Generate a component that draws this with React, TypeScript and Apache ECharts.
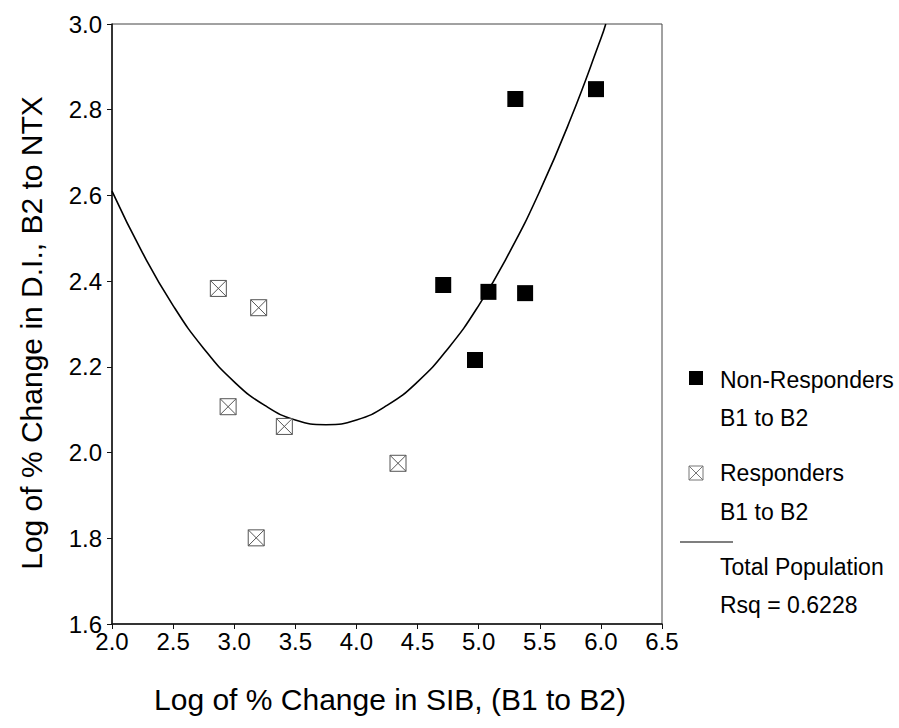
import React, { useEffect, useRef } from "react";
import * as echarts from "echarts";

// Non-Responders B1 to B2 (filled squares)
const nonRespX = [5.30, 5.96, 4.71, 5.08, 5.38, 4.97];
const nonRespY = [2.825, 2.848, 2.391, 2.375, 2.372, 2.216];

// Responders B1 to B2 (crossed squares)
const respX = [2.87, 3.20, 2.95, 3.41, 4.34, 3.18];
const respY = [2.383, 2.338, 2.107, 2.061, 1.975, 1.801];

// Total Population fitted curve
const curveX = [2.0, 2.25, 2.5, 2.75, 3.0, 3.25, 3.5, 3.75, 4.0, 4.25, 4.5, 4.75, 5.0, 5.25, 5.5, 5.75, 6.0, 6.04];
const curveY = [2.61, 2.466, 2.343, 2.243, 2.165, 2.11, 2.076, 2.065, 2.076, 2.11, 2.165, 2.243, 2.343, 2.466, 2.61, 2.777, 2.966, 3.0];

const legendLines = ["Non-Responders", "B1 to B2", "Responders", "B1 to B2", "Total Population", "Rsq = 0.6228"];

const xTitle = "Log of % Change in SIB, (B1 to B2)";
const yTitle = "Log of % Change in D.I., B2 to NTX";

const FONT = "'Liberation Sans', Arial, sans-serif";

export default function App() {
  const ref = useRef<HTMLDivElement>(null);
  useEffect(() => {
    if (!ref.current) return;
    const chart = echarts.init(ref.current, undefined, { renderer: "svg" });
    const zip = (xs: number[], ys: number[]) => xs.map((x, i) => [x, ys[i]]);
    const crossPath = "path://M0,0H16V16H0ZM0,0L16,16M16,0L0,16";
    const legendYs = [380, 418, 473, 512, 567, 605];
    chart.setOption({
      animation: false,
      backgroundColor: "#ffffff",
      textStyle: { fontFamily: FONT },
      grid: {
        left: 112,
        right: 237,
        top: 24,
        bottom: 104,
        show: true,
        borderColor: "#444",
        borderWidth: 1,
        backgroundColor: "transparent",
      },
      xAxis: {
        type: "value",
        min: 2,
        max: 6.5,
        interval: 0.5,
        axisLine: { show: true, onZero: false, lineStyle: { color: "#111", width: 1.5 } },
        axisTick: { show: true, inside: false, length: 5, lineStyle: { color: "#111", width: 1 } },
        axisLabel: {
          color: "#000",
          fontSize: 24,
          fontFamily: FONT,
          margin: 5,
          formatter: (v: number) => v.toFixed(1),
        },
        splitLine: { show: false },
      },
      yAxis: {
        type: "value",
        min: 1.6,
        max: 3.0,
        interval: 0.2,
        axisLine: { show: true, onZero: false, lineStyle: { color: "#111", width: 1.5 } },
        axisTick: { show: true, inside: false, length: 5, lineStyle: { color: "#111", width: 1 } },
        axisLabel: {
          color: "#000",
          fontSize: 24,
          fontFamily: FONT,
          margin: 10,
          formatter: (v: number) => v.toFixed(1),
        },
        splitLine: { show: false },
      },
      series: [
        {
          name: "Total Population",
          type: "line",
          data: zip(curveX, curveY),
          smooth: true,
          showSymbol: false,
          symbol: "none",
          lineStyle: { color: "#000", width: 1.6 },
          z: 2,
        },
        {
          name: "Responders B1 to B2",
          type: "scatter",
          data: zip(respX, respY),
          symbol: crossPath,
          symbolSize: 16,
          itemStyle: { color: "#fff", borderColor: "#555", borderWidth: 1, opacity: 1 },
          z: 3,
        },
        {
          name: "Non-Responders B1 to B2",
          type: "scatter",
          data: zip(nonRespX, nonRespY),
          symbol: "rect",
          symbolSize: 16,
          itemStyle: { color: "#000", opacity: 1 },
          z: 4,
        },
      ],
      graphic: [
        {
          type: "text",
          x: 390,
          y: 699,
          style: {
            text: xTitle,
            font: `30px ${FONT}`,
            fill: "#000",
            textAlign: "center",
            textVerticalAlign: "middle",
          },
        },
        {
          type: "text",
          x: 31,
          y: 333,
          rotation: Math.PI / 2,
          style: {
            text: yTitle,
            font: `30px ${FONT}`,
            fill: "#000",
            textAlign: "center",
            textVerticalAlign: "middle",
          },
        },
        { type: "rect", shape: { x: 689, y: 371, width: 14, height: 14 }, style: { fill: "#000" } },
        { type: "rect", shape: { x: 689, y: 466, width: 14, height: 14 }, style: { fill: "#fff", stroke: "#777", lineWidth: 1 } },
        { type: "line", shape: { x1: 689, y1: 466, x2: 703, y2: 480 }, style: { stroke: "#777", lineWidth: 1 } },
        { type: "line", shape: { x1: 703, y1: 466, x2: 689, y2: 480 }, style: { stroke: "#777", lineWidth: 1 } },
        { type: "line", shape: { x1: 680, y1: 542, x2: 733, y2: 542 }, style: { stroke: "#000", lineWidth: 1.2 } },
        ...legendLines.map((t, i) => ({
          type: "text",
          x: 720,
          y: legendYs[i],
          style: {
            text: t,
            font: `23px ${FONT}`,
            fill: "#000",
            textAlign: "left",
            textVerticalAlign: "middle",
          },
        })),
      ],
    });
    return () => chart.dispose();
  }, []);
  return (
    <div
      ref={ref}
      style={{ position: "fixed", left: 0, top: 0, width: 899, height: 728, background: "#fff" }}
    />
  );
}
